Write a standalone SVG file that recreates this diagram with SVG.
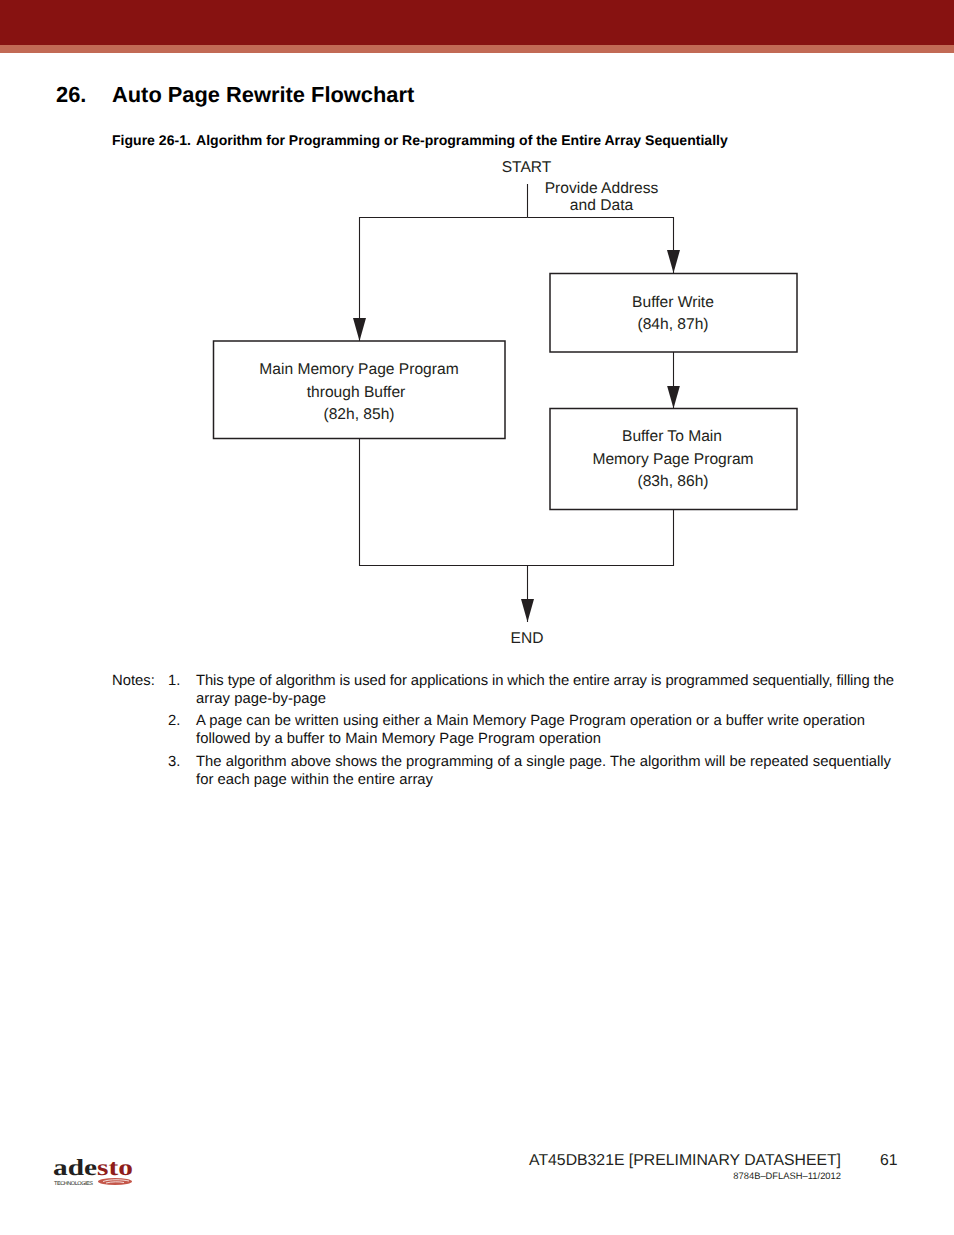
<svg xmlns="http://www.w3.org/2000/svg" width="954" height="1235" viewBox="0 0 954 1235">
<style>
text{font-family:"Liberation Sans",Arial,sans-serif;fill:#231f20;font-size:15.6px;text-rendering:geometricPrecision}
.c{text-anchor:middle}
.n{fill:#000}
.t{font-size:14.8px;fill:#111}
.h{font-size:21.85px;font-weight:bold;fill:#000}
.f{font-size:14.05px;font-weight:bold;fill:#000}
.box{fill:#fff;stroke:#231f20;stroke-width:1.5}
.line{fill:none;stroke:#231f20;stroke-width:1.1}
</style>
<defs>
<marker id="arrow" markerUnits="userSpaceOnUse" markerWidth="24" markerHeight="13" refX="23" refY="6.500" orient="auto" viewBox="0 0 24 13">
<path d="M0 0L23 6.500L0 13Z" fill="#231f20"/>
</marker>
</defs>
<rect width="954" height="45" fill="#871211"/>
<rect y="45" width="954" height="8" fill="#c26a55"/>
<text x="56" y="102" class="h">26.</text>
<text x="112" y="102" class="h">Auto Page Rewrite Flowchart</text>
<text x="112" y="145" class="f">Figure 26-1.</text>
<text x="196" y="145" class="f">Algorithm for Programming or Re-programming of the Entire Array Sequentially</text>

<g id="connectors">
<path class="line" d="M527.500 184V217.500"/>
<path class="line" d="M527.500 217.500H673.500V273" marker-end="url(#arrow)"/>
<path class="line" d="M527.500 217.500H359.500V341" marker-end="url(#arrow)"/>
<path class="line" d="M673.500 352V408.500" marker-end="url(#arrow)"/>
<path class="line" d="M359.500 438V565.500H673.500V509"/>
<path class="line" d="M527.500 565.500V622" marker-end="url(#arrow)"/>
</g>
<g id="start"><text x="526.500" y="172" class="c">START</text></g>
<g id="provide"><text x="601.500" y="193" class="c">Provide Address</text><text x="601.500" y="210" class="c">and Data</text></g>
<g id="buffer-write">
<rect class="box" x="550" y="273.500" width="247" height="78.500"/>
<text x="673" y="307" class="c">Buffer Write</text><text x="673" y="329" class="c">(84h, 87h)</text>
</g>
<g id="main-memory">
<rect class="box" x="213.500" y="341" width="291.500" height="97.500"/>
<text x="359" y="374" class="c">Main Memory Page Program</text><text x="356" y="397" class="c">through Buffer</text><text x="359" y="419" class="c">(82h, 85h)</text>
</g>
<g id="buffer-to-main">
<rect class="box" x="550" y="408.500" width="247" height="101"/>
<text x="672" y="441" class="c">Buffer To Main</text><text x="673" y="464" class="c">Memory Page Program</text><text x="673" y="486" class="c">(83h, 86h)</text>
</g>
<g id="end"><text x="527" y="643" class="c">END</text></g>

<g id="notes">
<text x="112" y="685" class="t">Notes:</text>
<text x="168" y="685" class="t">1.</text>
<text x="196" y="685" class="t" textLength="698">This type of algorithm is used for applications in which the entire array is programmed sequentially, filling the</text>
<text x="196" y="703" class="t" textLength="130">array page-by-page</text>
<text x="168" y="725" class="t">2.</text>
<text x="196" y="725" class="t" textLength="669">A page can be written using either a Main Memory Page Program operation or a buffer write operation</text>
<text x="196" y="743" class="t" textLength="405">followed by a buffer to Main Memory Page Program operation</text>
<text x="168" y="766" class="t">3.</text>
<text x="196" y="766" class="t" textLength="695">The algorithm above shows the programming of a single page. The algorithm will be repeated sequentially</text>
<text x="196" y="784" class="t" textLength="237">for each page within the entire array</text>
</g>

<g id="footer">
<text x="841" y="1165" style="font-size:15.8px;text-anchor:end">AT45DB321E [PRELIMINARY DATASHEET]</text>
<text x="880" y="1165" style="font-size:15.8px">61</text>
<text x="841" y="1179" style="font-size:9.400px;text-anchor:end">8784B–DFLASH–11/2012</text>
</g>
<g id="logo">
<text x="53" y="1175" textLength="80" lengthAdjust="spacingAndGlyphs" style="font-family:'Liberation Serif',serif;font-weight:bold;font-size:23px;fill:#231f20">ade<tspan fill="#8f1d1a">sto</tspan></text>
<text x="54" y="1185" textLength="39" style="font-size:5.500px;fill:#231f20">TECHNOLOGIES</text>
<ellipse cx="115" cy="1181.500" rx="17" ry="3.500" fill="#c4574a"/>
<path d="M103 1181.500C110 1179 122 1179.500 129 1181M106 1183C112 1181.500 119 1181.500 124 1182.500" fill="none" stroke="#fff" stroke-width=".8"/>
</g>
</svg>
